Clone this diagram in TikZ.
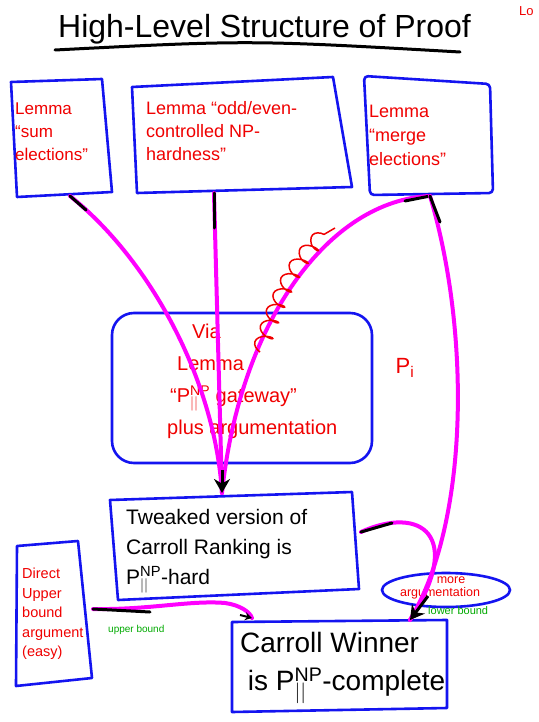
\documentclass[tikz,border=0pt]{standalone}
\usepackage{fontspec}
\setmainfont{Liberation Sans}
\usetikzlibrary{arrows.meta,decorations.pathmorphing,shapes.geometric}
\definecolor{bblue}{RGB}{20,20,240}
\definecolor{rred}{RGB}{240,0,0}
\definecolor{mag}{RGB}{255,0,255}
\definecolor{ggreen}{RGB}{0,170,0}
\tikzset{
  handbox/.style={draw=bblue,line width=2.6pt,line join=round},
  rtxt/.style={text=rred,align=left,inner sep=0pt},
  ktxt/.style={text=black,align=left,inner sep=0pt},
  gtxt/.style={text=ggreen,inner sep=0pt},
  mlink/.style={draw=mag,line width=4pt,line cap=round},
  klink/.style={draw=black,line width=3pt,line cap=round},
  ktip/.style={-{Stealth[length=14pt,width=16pt]},draw=black,line width=3pt}
}
\newcommand{\pnp}{$\mathrm{P}^{\mathrm{NP}}_{||}$}
\begin{document}
\begin{tikzpicture}[x=1pt,y=-1pt]
\useasboundingbox[fill=white] (0,0) rectangle (538,722);

% title
\node[ktxt,anchor=base west,font=\fontsize{32}{36}\selectfont] (title) at (58,38) {High-Level Structure of Proof};
\draw[line width=3pt,line cap=round] (55,50) .. controls (250,40) .. (460,52);
\node[rtxt,anchor=base west,font=\fontsize{13}{15}\selectfont] (lo) at (519,16) {Lo};

% top boxes
\draw[handbox] (11,82) -- (102,79) -- (112,192) -- (17,197) -- cycle;
\coordinate (b1) at (70,196);
\node[rtxt,anchor=north west,font=\fontsize{17}{23}\selectfont] (t1) at (15,103) {Lemma\\``sum\\elections''};

\draw[handbox] (132,87) -- (333,77) -- (352,187) -- (137,193) -- cycle;
\coordinate (b2) at (214,193);
\node[rtxt,anchor=north west,font=\fontsize{18}{23}\selectfont] (t2) at (146,101) {Lemma ``odd/even-\\controlled NP-\\hardness''};

\draw[handbox,rounded corners=4pt] (364,76) -- (490,84) -- (493,193) -- (370,195) -- cycle;
\coordinate (b3) at (430,196);
\node[rtxt,anchor=north west,font=\fontsize{18}{24}\selectfont] (t3) at (369,105) {Lemma\\``merge\\elections''};

% middle rounded box
\draw[handbox,rounded corners=22pt] (112,313) rectangle (372,463);
\node[rtxt,align=left,anchor=north west,font=\fontsize{20}{32}\selectfont] (mid) at (167,324) {\hspace*{25pt}Via\\\hspace*{10pt}Lemma\\\hspace*{3pt}``\pnp\ gateway''\\plus argumentation};

\node[rtxt,font=\fontsize{22}{24}\selectfont] (pi) at (405,368) {P\textsubscript{i}};

% tweaked box
\draw[handbox] (110,500) -- (352,492) -- (359,589) -- (118,600) -- cycle;
\coordinate (tr) at (361,532);
\coordinate (a1) at (222,493);
\node[ktxt,anchor=north west,font=\fontsize{21}{30}\selectfont] (t4) at (126,509) {Tweaked version of\\Carroll Ranking is\\\pnp-hard};

% direct box
\draw[handbox] (17,546) -- (78,541) -- (92,678) -- (16,686) -- cycle;
\coordinate (dr) at (93,609);
\node[rtxt,anchor=north west,font=\fontsize{14.5}{19.5}\selectfont] (t5) at (22,568) {Direct\\Upper\\bound\\argument\\(easy)};

% winner box
\draw[handbox] (232,622) -- (447,620) -- (447,708) -- (232,712) -- cycle;
\coordinate (wtop) at (410,620);
\coordinate (wleft) at (252,618);
\node[ktxt,anchor=north west,font=\fontsize{28}{38}\selectfont] (t6) at (240,632) {Carroll Winner\\\ is \pnp-complete};

% ellipse
\node[draw=bblue,line width=2.6pt,ellipse,minimum width=128pt,minimum height=34pt] (ell) at (446,590) {};
\node[rtxt,align=center,font=\fontsize{12.5}{13}\selectfont] (t7) at (440,588) {\hspace*{22pt}more\\argumentation};

% connectors
\draw[mlink] (b1) .. controls (150,260) and (215,380) .. (a1);
\draw[klink] (b1) -- (86,210);
\draw[mlink] (b2) -- (a1);
\draw[klink] (b2) -- (214,228);
\draw[mlink] (b3) .. controls (330,200) and (240,320) .. (a1);
\draw[klink] (b3) .. controls (420,198) .. (405,201);
\draw[rred,line width=1.5pt,decorate,decoration={coil,amplitude=8pt,segment length=17pt}] (260,352) .. controls (280,290) and (300,250) .. (335,228);
\draw[ktip] (222,470) -- (a1);

\draw[mlink] (b3) .. controls (470,330) and (470,520) .. (wtop);
\draw[klink] (b3) -- (440,222);
\draw[mlink] (tr) .. controls (420,505) and (465,535) .. (wtop);
\draw[klink] (tr) -- (392,523);
\draw[ktip] (428,596) -- (wtop);

\draw[mlink] (dr) .. controls (150,610) and (190,600) .. (225,603) .. controls (240,605) and (250,612) .. (wleft);
\draw[klink] (dr) -- (150,612);
\draw[-{Stealth[length=7pt,width=8pt]},draw=black,line width=2pt] (240,615) -- (wleft);

\node[gtxt,anchor=base west,font=\fontsize{10}{11}\selectfont] (ub) at (108,632) {upper bound};
\node[gtxt,anchor=base west,font=\fontsize{11}{12}\selectfont] (lb) at (428,614) {lower bound};
\end{tikzpicture}
\end{document}
